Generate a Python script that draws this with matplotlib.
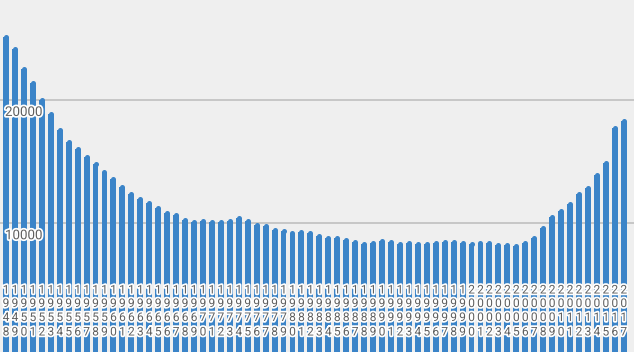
import numpy as np
import matplotlib
matplotlib.use('Agg')
import matplotlib.pyplot as plt
import matplotlib.patheffects as pe

years = list(range(1948, 2018))
values = [25370, 24330, 22710, 21570, 20220, 19080, 17830, 16800, 16280, 15590,
          15020, 14420, 13850, 13200, 12630, 12220, 11890, 11490, 11080, 10920,
          10510, 10300, 10430, 10300, 10300, 10430, 10680, 10430, 10110, 10020,
          9700, 9620, 9460, 9550, 9470, 9240, 9000, 9000, 8840, 8720,
          8560, 8640, 8800, 8720, 8560, 8620, 8540, 8540, 8620, 8720,
          8680, 8620, 8540, 8640, 8620, 8460, 8460, 8400, 8640, 9050,
          9860, 10760, 11200, 11760, 12580, 13110, 14120, 15120, 17990, 18510]
grid_values = [10000, 20000]

BAR_COLOR = '#3b84c8'
BG = '#efefef'
TEXT = '#5f5f5f'

plt.rcParams['font.family'] = ['Roboto', 'DejaVu Sans']

fig = plt.figure(figsize=(6.34, 3.52), dpi=100, facecolor=BG)
ax = fig.add_axes([0, 0, 1, 1])
ax.set_facecolor(BG)

x = np.arange(len(years))
ymin, ymax = -438, 28110
ax.set_xlim(-0.67, len(years) - 1 + 1.15)
ax.set_ylim(ymin, ymax)

for g in grid_values:
    ax.axhline(g, color='#c3c3c3', lw=1.3, zorder=1)

halo = [pe.withStroke(linewidth=2.5, foreground='white')]

# rounded tops: bar body stops one cap radius short, a dot finishes it
cap = 230
vals = np.array(values)
ax.bar(x, vals - cap - ymin, bottom=ymin, width=0.66,
       color=BAR_COLOR, zorder=2, linewidth=0)
ax.scatter(x, vals - cap, s=13, color=BAR_COLOR, marker='o', zorder=2, linewidths=0)

for g in grid_values:
    ax.text(5 / 634, g - 480, f'{g}', transform=ax.get_yaxis_transform(),
            va='top', ha='left', fontsize=9.6, color=TEXT, zorder=4,
            path_effects=halo)

row_px = [290, 303.5, 317.5, 332]
for xi, yr in zip(x, years):
    for k, ch in enumerate(str(yr)):
        ax.text(xi, 1 - row_px[k] / 352, ch, transform=ax.get_xaxis_transform(),
                ha='center', va='center', fontsize=8.6, color=TEXT, zorder=4,
                path_effects=halo)

ax.axis('off')
fig.savefig('out.png', dpi=100, facecolor=BG)
